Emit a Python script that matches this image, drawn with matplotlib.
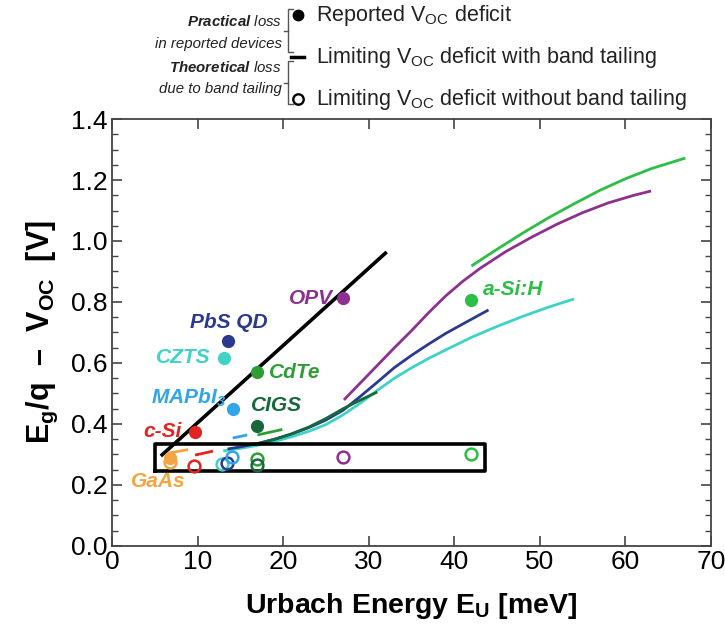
import matplotlib
matplotlib.use("Agg")
import matplotlib.pyplot as plt

plt.rcParams['font.family'] = ['Liberation Sans', 'DejaVu Sans']
plt.rcParams['mathtext.fontset'] = 'custom'
plt.rcParams['mathtext.default'] = 'regular'
plt.rcParams['mathtext.rm'] = 'Liberation Sans'
plt.rcParams['mathtext.it'] = 'Liberation Sans:italic'
plt.rcParams['mathtext.bf'] = 'Liberation Sans:italic:bold'

# ---------------- data ----------------
materials = ["GaAs", "c-Si", "CZTS", "PbS QD", "MAPbI3", "CdTe", "CIGS", "OPV", "a-Si:H"]
colors = ["#f2a541", "#e32222", "#3ed3c6", "#2b3a8f", "#2ea6e8", "#2e9e35", "#17683a", "#8e3090", "#2dbf45"]

# reported Voc deficit (filled)
urbach_reported = [6.8, 9.7, 13.1, 13.5, 14.1, 17.0, 17.0, 27.0, 42.0]
voc_def_reported = [0.289, 0.374, 0.617, 0.672, 0.449, 0.571, 0.393, 0.813, 0.806]

# limiting Voc deficit without band tailing (open)
urbach_ideal = [6.8, 9.6, 12.8, 13.4, 14.0, 17.0, 17.0, 27.0, 41.9]
voc_def_ideal = [0.275, 0.262, 0.269, 0.272, 0.292, 0.285, 0.265, 0.292, 0.300]

# limiting Voc deficit with band tailing (curves)
tail_x = {
    "GaAs": [6.7, 8.9],
    "c-Si": [9.7, 11.8],
    "CZTS": [13, 15, 17, 19, 21, 23, 25, 27, 29, 31, 33, 35, 37, 39, 42, 45, 48, 51, 54],
    "PbS QD": [13.5, 15, 17, 19, 21, 23, 25, 27, 29, 31, 33, 35, 37, 39, 41, 44],
    "MAPbI3": [14.1, 15.8],
    "CdTe": [17.0, 19.9],
    "CIGS": [17, 19, 21, 23, 25, 27, 29, 31],
    "OPV": [27.1, 29, 31, 33, 35, 37, 39, 41, 43, 46, 49, 52, 55, 58, 61, 63],
    "a-Si:H": [42, 45, 48, 51, 54, 57, 60, 63, 67],
}
tail_y = {
    "GaAs": [0.305, 0.316],
    "c-Si": [0.298, 0.311],
    "CZTS": [0.312, 0.32, 0.33, 0.343, 0.358, 0.376, 0.398, 0.43, 0.468, 0.51, 0.55, 0.584, 0.615,
             0.643, 0.684, 0.72, 0.753, 0.783, 0.81],
    "PbS QD": [0.318, 0.325, 0.336, 0.35, 0.367, 0.388, 0.413, 0.445, 0.49, 0.537, 0.585, 0.625,
               0.662, 0.697, 0.728, 0.774],
    "MAPbI3": [0.354, 0.364],
    "CdTe": [0.364, 0.382],
    "CIGS": [0.335, 0.35, 0.368, 0.39, 0.418, 0.45, 0.478, 0.505],
    "OPV": [0.479, 0.534, 0.592, 0.65, 0.706, 0.765, 0.82, 0.868, 0.91, 0.965, 1.012, 1.055, 1.093,
            1.125, 1.15, 1.164],
    "a-Si:H": [0.918, 0.973, 1.026, 1.076, 1.122, 1.166, 1.204, 1.237, 1.272],
}

# black guide line and highlight box
trend_x = [5.7, 32.1]
trend_y = [0.295, 0.964]
box_x = [5.0, 43.6]
box_y = [0.245, 0.335]

# label text and placement (x, y, ha)
label_text = {"GaAs": "GaAs", "c-Si": "c-Si", "CZTS": "CZTS", "PbS QD": "PbS QD",
              "MAPbI3": "MAPbI$_3$", "CdTe": "CdTe", "CIGS": "CIGS", "OPV": "OPV", "a-Si:H": "a-Si:H"}
label_place = {"GaAs": (5.4, 0.21, "center"), "c-Si": (5.9, 0.374, "center"),
               "CZTS": (8.3, 0.617, "center"), "PbS QD": (13.6, 0.734, "center"),
               "MAPbI3": (8.9, 0.485, "center"), "CdTe": (21.4, 0.57, "center"),
               "CIGS": (19.2, 0.462, "center"), "OPV": (25.8, 0.81, "right"),
               "a-Si:H": (43.4, 0.84, "left")}

# ---------------- figure ----------------
fig = plt.figure(figsize=(7.25, 6.28), dpi=100)
ax = fig.add_axes([0.1545, 0.1306, 0.8262, 0.6799])

for m, c in zip(materials, colors):
    ax.plot(tail_x[m], tail_y[m], color=c, lw=2.0, solid_capstyle='butt', zorder=2)

ax.plot(trend_x, trend_y, color='black', lw=2.6, zorder=3, solid_capstyle='butt')
ax.plot([box_x[0], box_x[1], box_x[1], box_x[0], box_x[0]],
        [box_y[0], box_y[0], box_y[1], box_y[1], box_y[0]], color='black', lw=2.6, zorder=3)

for x, y, c in zip(urbach_ideal, voc_def_ideal, colors):
    ax.plot(x, y, 'o', mfc='none', mec=c, mew=1.8, ms=8.5, zorder=4)
for x, y, c in zip(urbach_reported, voc_def_reported, colors):
    ax.plot(x, y, 'o', color=c, ms=9.5, mew=0, zorder=5)

for m, c in zip(materials, colors):
    lx, ly, ha = label_place[m]
    ax.text(lx, ly, label_text[m], color=c, fontsize=15, fontweight='bold', fontstyle='italic',
            ha=ha, va='center', zorder=6)

ax.set_xlim(0, 70)
ax.set_ylim(0, 1.4)
ax.set_xticks(range(0, 71, 10))
ax.set_yticks([0.0, 0.2, 0.4, 0.6, 0.8, 1.0, 1.2, 1.4])
ax.set_yticklabels(["0.0", "0.2", "0.4", "0.6", "0.8", "1.0", "1.2", "1.4"])
ax.set_yticks([i * 0.05 for i in range(29)], minor=True)
ax.tick_params(axis='both', which='major', direction='in', length=7, width=1.2,
               labelsize=19, top=True, right=True, color='#444444', pad=3)
ax.tick_params(axis='y', which='minor', direction='in', length=4, width=1.0,
               left=True, right=True, color='#444444')
for s in ax.spines.values():
    s.set_linewidth(1.3)
    s.set_color('#444444')

ax.set_xlabel("Urbach Energy E$_U$ [meV]", fontsize=20.5, fontweight='bold', labelpad=12)
ax.set_ylabel("E$_g$/q  –  V$_{OC}$  [V]", fontsize=22, fontweight='bold', labelpad=8)

# ---------------- custom legend ----------------
lg = fig.add_axes([0, 0, 1, 1], zorder=10)
lg.set_xlim(0, 725)
lg.set_ylim(628, 0)
lg.axis('off')
lg.patch.set_alpha(0)

fs = 15.5
tc = '#222222'
lg.plot(298, 15, 'o', color='black', ms=7.5)
lg.text(316, 15, "Reported V$_{OC}$ deficit", fontsize=fs, va='center', ha='left', color=tc)
lg.plot([291, 304], [57, 57], color='black', lw=2.5)
lg.text(316, 57, "Limiting V$_{OC}$ deficit with band tailing", fontsize=fs, va='center', ha='left', color=tc)
lg.plot(298, 99, 'o', mfc='none', mec='black', mew=1.7, ms=7.5)
lg.text(316, 99, "Limiting V$_{OC}$ deficit without band tailing", fontsize=fs, va='center', ha='left', color=tc)

for y0, y1 in [(9, 52), (61, 104)]:
    ym = (y0 + y1) / 2
    lg.plot([293, 288, 288, 293], [y0, y0, y1, y1], color='#555555', lw=1.0)
    lg.plot([284, 288], [ym, ym], color='#555555', lw=1.0)

bfs = 10.8
lg.text(282, 22, "$\\mathbf{Practical}$ loss", fontsize=bfs, fontstyle='italic', ha='right', va='center', color=tc)
lg.text(282, 44, "in reported devices", fontsize=bfs, fontstyle='italic', ha='right', va='center', color=tc)
lg.text(282, 67, "$\\mathbf{Theoretical}$ loss", fontsize=bfs, fontstyle='italic', ha='right', va='center', color=tc)
lg.text(282, 89, "due to band tailing", fontsize=bfs, fontstyle='italic', ha='right', va='center', color=tc)

fig.savefig("out.png", dpi=100)
